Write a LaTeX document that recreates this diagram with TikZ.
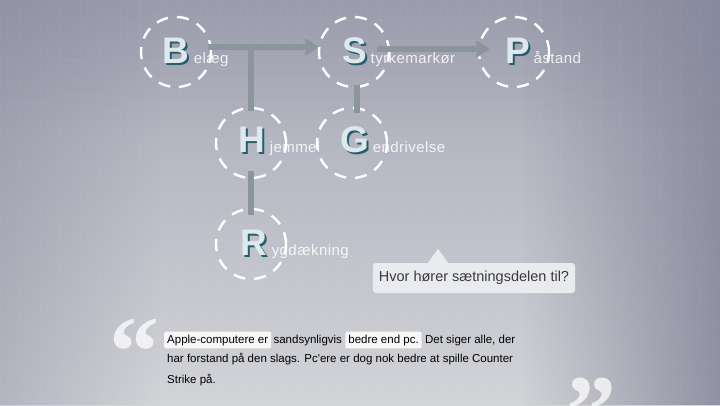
\documentclass[tikz,border=0pt]{standalone}
\usepackage{fontspec}
\setmainfont{Liberation Sans}
\newfontfamily\quotefont{Liberation Serif}
\newfontfamily\tagfont[LetterSpace=3]{Liberation Sans}
\usepackage{tikz}
\usetikzlibrary{arrows.meta, positioning, fadings, calc}
\definecolor{BgTop}{RGB}{164, 166, 181}
\definecolor{BgMid}{RGB}{189, 191, 198}
\definecolor{BgLow}{RGB}{211, 212, 216}
\definecolor{EdgeDark}{RGB}{132, 134, 154}
\definecolor{LineGray}{RGB}{140, 149, 155}
\definecolor{LetterFill}{RGB}{222, 233, 237}
\definecolor{LetterShade}{RGB}{38, 94, 110}
\definecolor{TipFill}{RGB}{234, 235, 238}
\definecolor{TipText}{RGB}{58, 58, 62}
\tikzfading[name=fadeLeft, left color=transparent!0, right color=transparent!100]
\tikzfading[name=fadeRight, left color=transparent!100, right color=transparent!0]
\tikzfading[name=fadeTop, top color=transparent!0, bottom color=transparent!100]
% big letter with its dark offset shadow
\newcommand{\shletter}[1]{\makebox[0pt][l]{\hspace{2pt}\raisebox{-2pt}{\textcolor{LetterShade}{#1}}}#1}

\begin{document}
\begin{tikzpicture}[
    x=1pt, y=-1pt,
    ring/.style={circle, draw=white, line width=2.4pt, dash pattern=on 12pt off 9pt, minimum size=70pt, inner sep=0pt},
    letter/.style={font=\fontsize{37}{37}\selectfont\bfseries, text=LetterFill, inner sep=0pt},
    tag/.style={font=\tagfont\fontsize{15}{15}\selectfont, text=white, text opacity=0.85, inner sep=0pt},
    conn/.style={draw=LineGray, line width=6pt},
    arr/.style={conn, -{Stealth[length=16pt, width=21pt, inset=5pt, round]}},
    tip/.style={fill=TipFill, rounded corners=3pt, font=\fontsize{14.5}{14.5}\selectfont, text=TipText, minimum height=30pt, inner xsep=6pt},
    txt/.style={font=\fontsize{11.5}{11.5}\selectfont, text=black, inner sep=0pt, anchor=base west},
    hl/.style={txt, fill=white, fill opacity=0.85, text opacity=1, rounded corners=2pt, inner xsep=3pt, inner ysep=3pt},
    quote/.style={font=\quotefont\bfseries\fontsize{100}{100}\selectfont, text=white, text opacity=0.75, inner sep=0pt}
]
\useasboundingbox (0,0) rectangle (720,405);

% background
\fill[top color=BgTop, middle color=BgMid, bottom color=BgLow] (0,0) rectangle (720,405);
\fill[EdgeDark, opacity=0.4, path fading=fadeLeft] (0,0) rectangle (160,405);
\fill[EdgeDark, opacity=0.85, path fading=fadeRight] (520,0) rectangle (720,405);
\fill[EdgeDark, opacity=0.3, path fading=fadeTop] (0,0) rectangle (720,130);
\draw[white, opacity=0.03, step=20pt] (0,0) grid (720,405);

% rings
\node[ring] (belaeg) at (176,52) {};
\node[ring] (styrke) at (354,52) {};
\node[ring] (pastand) at (514,52) {};
\node[ring] (hjemmel) at (251,143) {};
\node[ring] (gendriv) at (352,143) {};
\node[ring] (ryg) at (251,244) {};

% connectors
\coordinate (tee) at ([yshift=5pt]belaeg.east -| hjemmel.north);
\draw[arr, shorten <=-4pt] ([yshift=5pt]belaeg.east) -- ([yshift=5pt]styrke.west);
\draw[conn] (tee) -- ([yshift=-4pt]hjemmel.north);
\draw[conn, shorten <=-8pt, shorten >=-7pt] (hjemmel.south) -- (ryg.north);
\draw[conn, shorten <=-3pt, shorten >=-6pt] ([xshift=3pt]styrke.south) -- ([xshift=3pt]styrke.south |- gendriv.north);
\draw[arr, shorten <=-13pt, shorten >=-11pt] ([yshift=3pt]styrke.east) -- ([yshift=3pt]pastand.west);

% letters and words
\node[letter] (lB) at (belaeg) {\shletter{B}};
\node[tag, base right=4pt of lB] (tB) {elæg};
\node[letter] (lS) at ([xshift=1pt]styrke) {\shletter{S}};
\node[tag, base right=3pt of lS] (tS) {tyrkemarkør};
\node[letter] (lP) at ([xshift=4pt]pastand) {\shletter{P}};
\node[tag, base right=3pt of lP] (tP) {åstand};
\node[letter] (lH) at ([xshift=1pt,yshift=2pt]hjemmel) {\shletter{H}};
\node[tag, base right=4pt of lH] (tH) {jemmel};
\node[letter] (lG) at ([xshift=3pt,yshift=2pt]gendriv) {\shletter{G}};
\node[tag, base right=3pt of lG] (tG) {endrivelse};
\node[letter] (lR) at ([xshift=3pt]ryg) {\shletter{R}};
\node[tag, base right=4pt of lR] (tR) {ygdækning};

% tooltip
\node[tip] (question) at (474,278) {Hvor hører sætningsdelen til?};
\fill[TipFill] ([xshift=-46pt]question.north) -- ([xshift=-36pt, yshift=14pt]question.north) -- ([xshift=-26pt]question.north) -- cycle;

% quotation
\node[quote, anchor=base] (openq) at (134,385) {“};
\node[quote, anchor=base] (closeq) at (591,444) {”};
\node[hl] (apple) at (164,343) {Apple-computere er};
\node[txt, base right=2pt of apple] (sandsyn) {sandsynligvis};
\node[hl, base right=3pt of sandsyn] (bedre) {bedre end pc.};
\node[txt, base right=3pt of bedre] (detsiger) {Det siger alle, der};
\node[txt] (line2) at (167,362) {har forstand på den slags. Pc\textquotesingle ere er dog nok bedre at spille Counter};
\node[txt] (line3) at (167,383) {Strike på.};

\end{tikzpicture}
\end{document}
